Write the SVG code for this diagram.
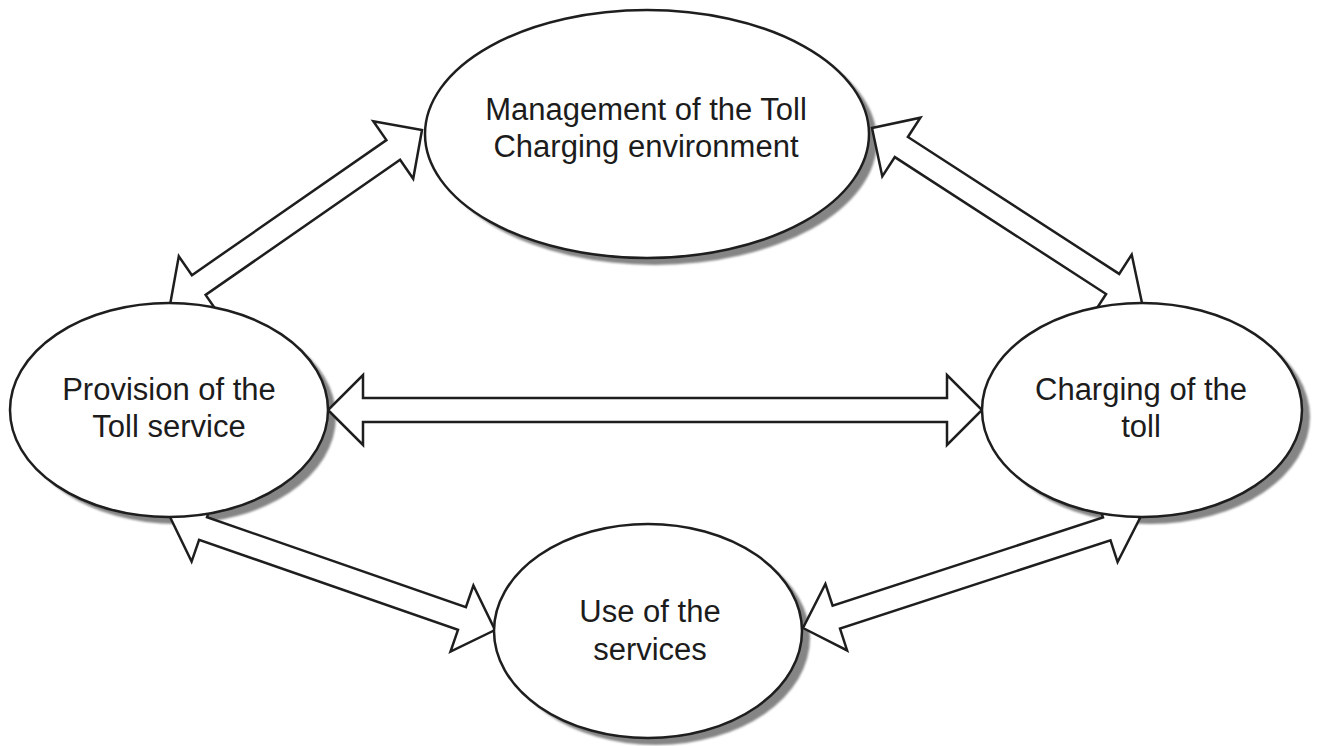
<svg xmlns="http://www.w3.org/2000/svg" width="1317" height="746" viewBox="0 0 1317 746">
  <style>
    .shadow { fill: #858585; stroke: none; }
    .node { fill: #ffffff; stroke: #1e1e1e; stroke-width: 2.5; }
    .arrow { fill: #ffffff; stroke: #1e1e1e; stroke-width: 2.5; stroke-linejoin: miter; }
    .label { font-family: "Liberation Sans", Arial, sans-serif; font-size: 31px; fill: #1c1c1c; text-anchor: middle; }
  </style>
  <defs>
    <filter id="soft" x="-5%" y="-5%" width="110%" height="110%">
      <feGaussianBlur stdDeviation="0.8"/>
    </filter>
  </defs>

  <rect width="1317" height="746" fill="#ffffff"/>

  <!-- drop shadows under the ellipses -->
  <g id="shadows" class="shadow" filter="url(#soft)">
    <ellipse cx="655" cy="141" rx="222" ry="124"/>
    <ellipse cx="177" cy="417" rx="159" ry="107"/>
    <ellipse cx="1150" cy="417" rx="160" ry="107"/>
    <ellipse cx="656" cy="638" rx="154" ry="107"/>
  </g>

  <!-- double-headed block arrows -->
  <g id="connectors" class="arrow">
    <polygon points="328,410 363,445 363,422 947,422 947,445 982,410 947,375 947,398 363,398 363,375"/>
    <polygon points="170,305 218.7,313.8 205.6,294.9 400.1,159.8 413.2,178.7 422,130 373.3,121.2 386.4,140.1 191.9,275.2 178.8,256.3"/>
    <polygon points="872,128 882.3,176.4 894.8,157.1 1106.1,294.0 1093.6,313.3 1142,303 1131.7,254.6 1119.2,273.9 907.9,137.0 920.4,117.7"/>
    <polygon points="170,517 191.6,561.6 199.1,539.8 458.0,629.8 450.5,651.6 495,630 473.4,585.5 465.9,607.2 207.0,517.2 214.6,495.4"/>
    <polygon points="803,628 847.1,650.4 840.0,628.6 1110.5,540.3 1117.6,562.1 1140,518 1095.9,495.6 1103.0,517.5 832.6,605.7 825.4,583.9"/>
  </g>

  <g id="management">
    <ellipse class="node" cx="647" cy="134" rx="222" ry="124"/>
    <text class="label" x="646" y="120">Management of the Toll</text>
    <text class="label" x="646" y="157">Charging environment</text>
  </g>

  <g id="provision">
    <ellipse class="node" cx="169" cy="410" rx="159" ry="107"/>
    <text class="label" x="169" y="400">Provision of the</text>
    <text class="label" x="169" y="437">Toll service</text>
  </g>

  <g id="charging">
    <ellipse class="node" cx="1142" cy="410" rx="160" ry="107"/>
    <text class="label" x="1141" y="400">Charging of the</text>
    <text class="label" x="1141" y="437">toll</text>
  </g>

  <g id="use">
    <ellipse class="node" cx="648" cy="631" rx="154" ry="107"/>
    <text class="label" x="650" y="622">Use of the</text>
    <text class="label" x="650" y="660">services</text>
  </g>
</svg>
